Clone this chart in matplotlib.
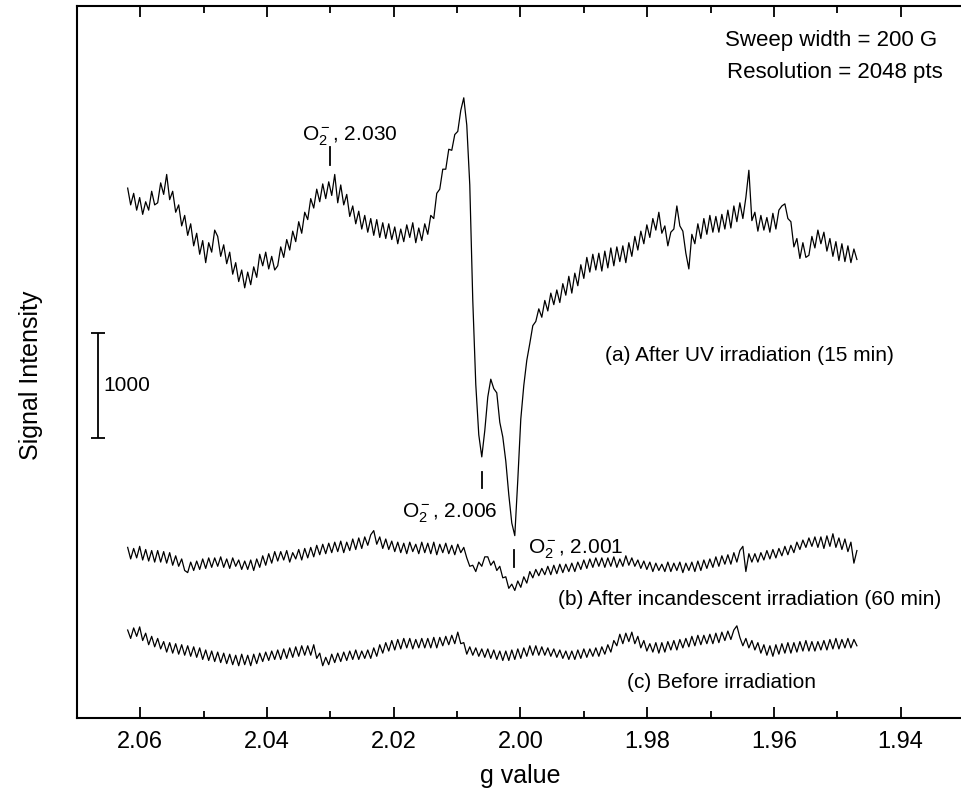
import numpy as np
import matplotlib
matplotlib.use("Agg")
import matplotlib.pyplot as plt

plt.rcParams['font.family'] = ['Liberation Sans', 'DejaVu Sans']
plt.rcParams['mathtext.fontset'] = 'custom'
plt.rcParams['mathtext.rm'] = 'Liberation Sans'
plt.rcParams['mathtext.it'] = 'Liberation Sans:italic'

# sweep range in g (200 G sweep), every trace sampled on the same grid
g_start = 2.062
g_end = 1.9469

# (a) after UV irradiation (15 min), intensity relative to its own baseline
trace_a = [
    590, 430, 540, 380, 500, 340, 460, 380, 560, 430,
    450, 640, 530, 720, 480, 560, 360, 430, 230, 330,
    140, 250, 40, 160, -40, 90, -120, 70, -20, 190,
    130, -60, 50, -130, -20, -230, -120, -300, -190, -360,
    -210, -330, -160, -260, -40, -150, -20, -180, -60, -190,
    -150, 30, -70, 100, 0, 180, 80, 270, 160, 360,
    290, 490, 400, 580, 460, 630, 490, 650, 520, 720,
    450, 620, 430, 530, 320, 420, 250, 370, 200, 330,
    170, 300, 140, 290, 120, 260, 110, 250, 100, 220,
    60, 200, 80, 240, 120, 260, 70, 210, 90, 250,
    150, 330, 300, 540, 580, 770, 770, 960, 950, 1100,
    1130, 1330, 1450, 1190, 620, -480, -1280, -1760, -1970, -1720,
    -1400, -1230, -1320, -1360, -1640, -1780, -2010, -2330, -2600, -2720,
    -2190, -1610, -1290, -1050, -890, -720, -680,
    -560, -640, -480, -580, -410, -520, -380, -500, -320, -430,
    -250, -410, -220, -340, -140, -270, -70, -210, -40, -190,
    -30, -200, -10, -170, 20, -150, 30, -110, 40, -120,
    70, -60, 130, 0, 180, 60, 240, 120, 300, 190,
    360, 160, 230, 40, 170, 200, 420, 230, 180, -30,
    -180, 150, 60, 250, 110, 300, 150, 330, 170, 320,
    170, 340, 200, 380, 210, 420, 270, 450, 300, 500,
    760, 280, 360, 180, 330, 190, 310, 170, 350, 200,
    380, 420, 440, 300, 270, 30, 110, -80, 70, -70,
    -50, 130, 20, 190, 60, 170, -10, 110, -60, 80,
    -100, 60, -110, 40, -120, 10, -90,
]

# (b) after incandescent irradiation (60 min)
trace_b = [
    120, 10, 110, 20, 130, 0, 100, -10, 90, -20,
    90, -20, 80, -30, 70, -50, 40, -60, 10, -100,
    -120, -20, -100, -10, -90, 10, -80, 20, -70, 20,
    -60, 30, -70, 10, -80, 20, -60, 0, -90, -10,
    -90, 0, -100, 10, -70, 40, -50, 60, -30, 80,
    -10, 80, 0, 90, -20, 70, 10, 100, 0, 110,
    20, 120, 30, 140, 50, 150, 60, 160, 70, 170,
    80, 180, 70, 170, 90, 200, 100, 210, 110, 220,
    140, 240, 280, 150, 220, 110, 200, 100, 180, 80,
    170, 70, 160, 60, 170, 80, 150, 60, 170, 70,
    160, 60, 170, 50, 150, 70, 160, 60, 140, 50,
    150, 70, 120, 20, -60, -50, -110, -20, -60, 30,
    30, -50, -10, -100, -60, -170, -160, -270, -230, -290,
    -200, -260, -160, -220, -110, -170, -90, -150, -80, -140,
    -60, -140, -50, -130, -40, -120, -40, -110, -30, -110,
    -20, -90, 0, -80, 10, -70, 20, -60, 20, -70,
    20, -60, 30, -70, 10, -60, 40, -50, 20, -60,
    0, -80, -10, -90, -20, -110, -30, -100, -40, -110,
    -20, -110, -30, -100, -20, -120, -30, -100, -20, -110,
    -10, -100, 0, -80, 10, -70, 30, -60, 40, -40,
    50, -40, 70, -20, 90, 130, -110, 60, -20, 60,
    -20, 70, 0, 90, 10, 100, 20, 110, 40, 130,
    50, 140, 70, 170, 100, 190, 120, 210, 130, 220,
    120, 220, 110, 230, 130, 250, 120, 210, 100, 200,
    80, 170, -30, 90,
]

# (c) before irradiation
trace_c = [
    190, 110, 210, 130, 220, 90, 160, 50, 130, 30,
    110, 10, 80, -20, 70, -30, 60, -40, 50, -50,
    40, -60, 30, -70, 20, -90, 0, -100, -10, -110,
    -20, -120, -30, -130, -40, -140, -50, -150, -40, -140,
    -50, -150, -40, -130, -30, -110, -20, -100, -10, -90,
    0, -90, 10, -80, 20, -70, 30, -60, 40, -50,
    40, -50, 50, -80, -30, -150, -70, -140, -40, -120,
    -30, -110, -20, -100, -10, -90, 0, -90, -10, -80,
    0, -80, 20, -60, 50, -30, 70, -10, 90, 0,
    100, 10, 110, 20, 110, 10, 100, 20, 110, 20,
    110, 20, 120, 20, 120, 40, 130, 50, 140, 60,
    170, 60, 70, -40, 30, -50, 20, -60, 10, -70,
    10, -80, 0, -90, -10, -100, -10, -100, 0, -90,
    10, -80, 20, -60, 40, -50, 40, -50, 30, -50,
    20, -60, 10, -70, 0, -80, -10, -90, -10, -90,
    0, -80, 10, -70, 10, -60, 20, -60, 30, -40,
    50, -20, 90, 40, 150, 60, 160, 80, 170, 60,
    130, 20, 90, -10, 60, -20, 70, -30, 70, -20,
    80, 0, 90, 0, 100, 20, 110, 30, 130, 40,
    140, 50, 140, 60, 150, 60, 160, 70, 170, 90,
    180, 100, 190, 230, 120, 40, 110, 20, 90, 0,
    70, -30, 50, -50, 40, -60, 50, -40, 60, -30,
    70, -30, 70, -20, 80, -10, 90, -10, 80, -10,
    80, 0, 90, 0, 100, 10, 110, 10, 100, 20,
    110, 20, 100, 40,
]

trace_labels = ['(a) After UV irradiation (15 min)',
                '(b) After incandescent irradiation (60 min)',
                '(c) Before irradiation']

# O2- features marked on the spectra
peak_g = [2.030, 2.006, 2.001]

fig = plt.figure(figsize=(9.61, 7.94), dpi=100)
ax = fig.add_axes([0.0801, 0.0957, 0.923, 0.8967])

# stack the spectra with vertical offsets
offsets = [4457, 1505, 648]
for trace, off in zip([trace_a, trace_b, trace_c], offsets):
    g = np.linspace(g_start, g_end, len(trace))
    ax.plot(g, np.array(trace) + off, color='black', lw=0.9)

ax.set_xlim(2.07, 1.93)
ax.set_ylim(0, 6781)

# markers for the O2- lines
mark_y = [(5267, 5438), (2190, 2343), (1438, 1600)]
for gp, (y0, y1) in zip(peak_g, mark_y):
    ax.plot([gp, gp], [y0, y1], color='black', lw=1.3)

ax.text(2.0345, 5505, r'O$_2^-$, %.3f' % peak_g[0], fontsize=15, va='baseline')
ax.text(2.0187, 1905, r'O$_2^-$, %.3f' % peak_g[1], fontsize=15, va='baseline')
ax.text(1.9988, 1571, r'O$_2^-$, %.3f' % peak_g[2], fontsize=15, va='baseline')

# curve labels
ax.text(1.98665, 3457, trace_labels[0], fontsize=15, va='center')
ax.text(1.99407, 1124, trace_labels[1], fontsize=15, va='center')
ax.text(1.98318, 343, trace_labels[2], fontsize=15, va='center')

# 1000 counts scale bar
ax.errorbar([2.0667], [3167], yerr=[500], color='black', lw=1.3,
            capsize=5, capthick=1.3)
ax.text(2.0659, 3167, '1000', fontsize=15, va='center', ha='left')

ax.text(1.93424, 6448, 'Sweep width = 200 G', fontsize=16, ha='right', va='center')
ax.text(1.93329, 6152, 'Resolution = 2048 pts', fontsize=16, ha='right', va='center')

ax.set_xticks([2.06, 2.04, 2.02, 2.00, 1.98, 1.96, 1.94])
ax.set_xticklabels(['2.06', '2.04', '2.02', '2.00', '1.98', '1.96', '1.94'])
ax.set_xticks(np.arange(1.93, 2.075, 0.01), minor=True)
ax.tick_params(axis='x', which='major', direction='in', top=True, length=8,
               width=1.3, labelsize=17, pad=9)
ax.tick_params(axis='x', which='minor', direction='in', top=True, length=5, width=1.3)
ax.set_yticks([])
for s in ax.spines.values():
    s.set_linewidth(1.5)

ax.set_xlabel('g value', fontsize=18, labelpad=8)
fig.text(31 / 961, 1 - 375 / 794, 'Signal Intensity', fontsize=18,
         rotation=90, ha='center', va='center')

fig.savefig('out.png', dpi=100)
